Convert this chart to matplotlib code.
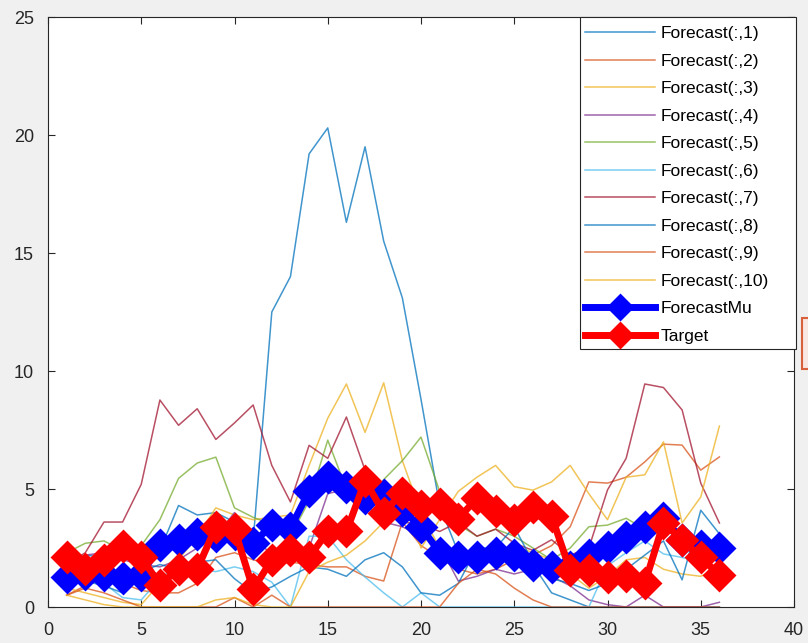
import numpy as np
import matplotlib.pyplot as plt
from matplotlib.patches import Rectangle

plt.rcParams['font.family'] = ['Liberation Sans', 'DejaVu Sans']

steps = np.arange(1, 37)

# individual ensemble forecasts
forecast_1 = [1.8, 2.2, 2.1, 1.2, 1.7, 2.4, 4.3, 3.9, 4.0, 3.6, 2.8, 12.5, 14.0, 19.2, 20.3, 16.3, 19.5, 15.5,
              13.1, 8.8, 4.3, 2.3, 2.0, 2.6, 2.4, 1.8, 0.6, 0.3, 0.0, 0.0, 0.0, 0.0, 0.0, 0.0, 0.0, 0.0]
forecast_2 = [0.5, 0.9, 1.2, 1.0, 0.7, 0.6, 0.6, 1.0, 2.1, 2.3, 2.0, 1.8, 1.9, 1.8, 1.7, 1.7, 1.3, 1.1,
              3.6, 2.6, 2.1, 1.6, 1.4, 1.6, 2.0, 2.2, 2.6, 3.4, 5.3, 5.25, 5.5, 6.15, 6.9, 6.86, 5.8, 6.36]
forecast_3 = [0.8, 0.6, 0.4, 0.2, 0.1, 1.0, 2.0, 3.0, 4.2, 3.9, 3.7, 3.8, 3.9, 6.0, 8.0, 9.45, 7.4, 9.5,
              6.2, 4.0, 2.5, 2.2, 2.0, 2.2, 2.6, 2.3, 2.0, 1.4, 0.8, 1.3, 2.0, 2.1, 1.6, 1.4, 1.3, 1.7]
forecast_4 = [1.5, 2.2, 2.3, 2.0, 1.8, 1.7, 2.0, 2.5, 3.0, 4.0, 3.0, 2.2, 2.0, 2.5, 4.8, 5.0, 4.4, 3.6,
              3.4, 3.0, 2.6, 1.1, 1.3, 1.6, 1.4, 1.6, 1.3, 0.9, 0.3, 0.1, 0.0, 0.5, 0.0, 0.0, 0.0, 0.2]
forecast_5 = [2.3, 2.7, 2.8, 2.4, 2.6, 3.7, 5.45, 6.1, 6.35, 4.2, 3.8, 3.5, 3.0, 4.5, 7.07, 5.0, 4.1, 5.4,
              6.2, 7.2, 4.9, 3.5, 3.0, 3.3, 3.0, 2.5, 2.0, 2.5, 3.4, 3.47, 3.76, 3.3, 3.2, 3.0, 2.6, 1.9]
forecast_6 = [2.0, 1.6, 1.0, 0.4, 0.3, 1.2, 1.8, 1.6, 1.5, 1.7, 1.5, 1.05, 0.0, 3.0, 3.0, 2.0, 1.27, 0.6,
              0.0, 0.6, 0.0, 0.0, 0.0, 0.0, 0.0, 0.0, 0.0, 0.0, 0.0, 1.75, 2.3, 2.8, 2.25, 2.1, 1.9, 1.45]
forecast_7 = [1.8, 2.3, 3.6, 3.6, 5.2, 8.77, 7.7, 8.4, 7.1, 7.8, 8.56, 6.0, 4.45, 6.85, 6.3, 8.05, 5.8, 4.0,
              3.6, 3.5, 3.2, 3.6, 3.0, 3.3, 2.7, 2.4, 2.85, 2.2, 2.5, 4.96, 6.3, 9.45, 9.3, 8.35, 5.25, 3.56]
forecast_8 = [1.0, 1.1, 0.9, 0.6, 1.5, 1.8, 1.6, 1.9, 2.0, 1.2, 0.6, 0.85, 1.3, 1.7, 1.6, 1.3, 2.0, 2.3,
              1.7, 0.6, 0.5, 1.0, 2.5, 2.5, 3.4, 1.9, 1.2, 1.0, 0.7, 1.0, 1.6, 2.2, 2.8, 1.15, 4.1, 3.1]
forecast_9 = [0.5, 0.8, 0.6, 0.3, 0.0, 0.0, 0.0, 0.0, 0.0, 0.4, 0.0, 0.5, 0.0, 0.0, 0.0, 0.0, 0.0, 0.0,
              0.0, 0.0, 0.0, 1.0, 1.6, 1.4, 0.8, 0.3, 0.0, 0.0, 0.0, 0.0, 0.0, 0.0, 0.0, 0.0, 0.0, 0.0]
forecast_10 = [0.5, 0.3, 0.1, 0.0, 0.0, 0.0, 0.0, 0.0, 0.3, 0.4, 0.1, 0.0, 0.0, 1.5, 1.9, 2.2, 2.8, 3.6,
               4.8, 2.5, 3.7, 4.9, 5.5, 6.0, 5.1, 4.95, 5.3, 6.0, 4.8, 3.7, 5.5, 5.6, 7.0, 3.56, 4.66, 7.67]

forecast_mu = [1.28, 1.4, 1.36, 1.23, 1.36, 2.63, 2.84, 3.1, 3.0, 3.1, 2.7, 3.47, 3.35, 4.9, 5.5, 5.1, 4.6, 4.75,
               4.1, 3.4, 2.3, 2.1, 2.1, 2.3, 2.2, 1.8, 1.7, 1.7, 2.2, 2.55, 2.97, 3.4, 3.77, 2.85, 2.6, 2.5]
target = [2.1, 1.6, 2.0, 2.6, 2.1, 0.95, 1.6, 1.6, 3.4, 3.3, 0.75, 2.0, 2.4, 2.1, 3.2, 3.2, 5.35, 4.0,
          4.85, 4.3, 4.35, 3.75, 4.6, 4.05, 3.7, 4.25, 3.85, 1.55, 1.55, 1.27, 1.3, 1.0, 3.56, 2.85, 2.1, 1.36]

forecasts = [forecast_1, forecast_2, forecast_3, forecast_4, forecast_5,
             forecast_6, forecast_7, forecast_8, forecast_9, forecast_10]

# MATLAB default line color order
matlab_colors = ['#0072BD', '#D95319', '#EDB120', '#7E2F8E', '#77AC30',
                 '#4DBEEE', '#A2142F']

fig = plt.figure(figsize=(8.08, 6.43), dpi=100)
fig.patch.set_facecolor('#f0f0f0')
ax = fig.add_axes([48 / 808, 36 / 643, 746 / 808, 590 / 643])

for i, series in enumerate(forecasts):
    ax.plot(steps, series, color=matlab_colors[i % 7], lw=1.1, alpha=0.75,
            label=f'Forecast(:,{i + 1})')

ax.plot(steps, forecast_mu, color='#0000ff', lw=5, marker='D', ms=15, mew=2,
        label='ForecastMu')
ax.plot(steps, target, color='#ff0000', lw=5, marker='D', ms=15, mew=2,
        label='Target')

ax.set_xlim(0, 40)
ax.set_ylim(0, 25)
ax.set_xticks(np.arange(0, 41, 5))
ax.set_yticks(np.arange(0, 26, 5))
ax.tick_params(direction='in', top=True, right=True, labelsize=13,
               length=5, width=0.8, color='#262626', labelcolor='#262626')
ax.tick_params(axis='x', pad=11)
ax.tick_params(axis='y', pad=10)
for side in ax.spines.values():
    side.set_color('#262626')
    side.set_linewidth(0.8)

# legend box is drawn separately so it can be sized like MATLAB's
ax.add_patch(Rectangle((0.713, 0.437), 0.29, 0.563, transform=ax.transAxes,
                       facecolor='white', edgecolor='#262626', lw=0.8,
                       clip_on=False, zorder=4))
leg = ax.legend(loc='upper left', bbox_to_anchor=(0.708, 1.0), fontsize=12.5,
                frameon=False, borderaxespad=0.0, handlelength=4.0,
                handletextpad=0.35, labelspacing=0.71, borderpad=0.53)
leg.set_zorder(5)
for h in leg.legend_handles[-2:]:
    h.set_markersize(12)

# small data-tip box poking in at the figure's right edge
fig.patches.append(Rectangle((802 / 808, (643 - 369) / 643), 20 / 808, 51 / 643,
                             transform=fig.transFigure, facecolor='#f8e6e2',
                             edgecolor='#d9603c', lw=1.5, clip_on=False))

fig.savefig('out.png', dpi=100, facecolor=fig.get_facecolor())
